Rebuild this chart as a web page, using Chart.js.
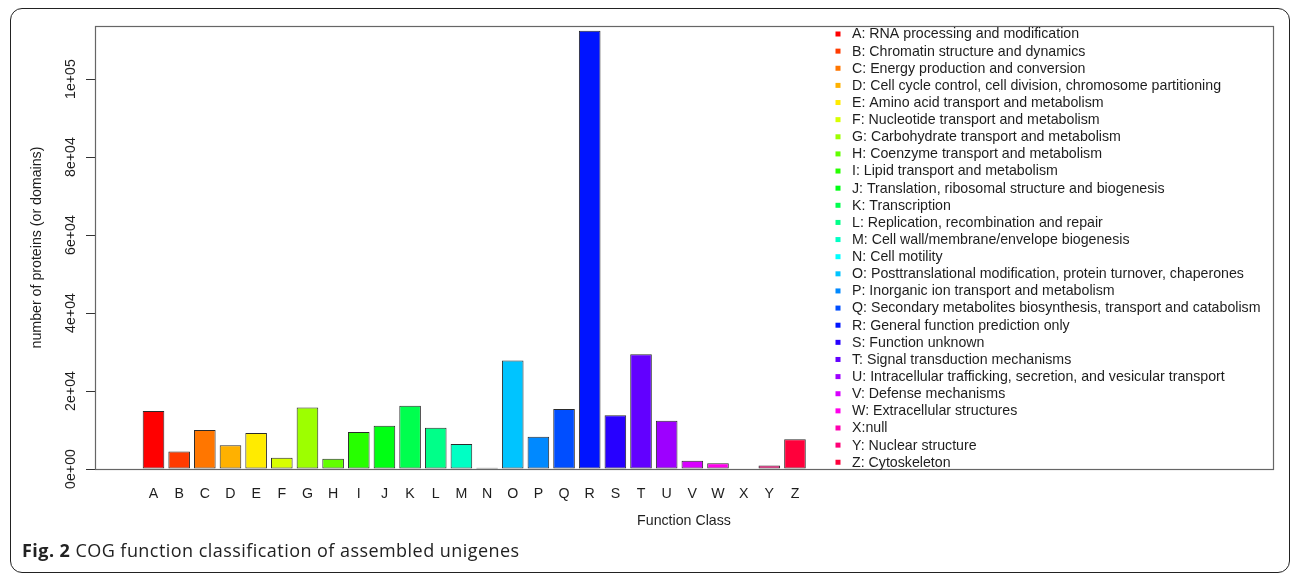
<!DOCTYPE html>
<html><head><meta charset="utf-8">
<script src="https://cdn.jsdelivr.net/npm/chart.js@4.4.1/dist/chart.umd.min.js"></script>
<style>
html,body{margin:0;padding:0;background:#fff;}
#wrap{position:relative;width:1292px;height:574px;overflow:hidden;background:#fff;}
#c{position:absolute;left:0;top:0;}
#frame{position:absolute;left:10px;top:8px;width:1280px;height:565px;box-sizing:border-box;border:1.5px solid #222;border-radius:12px;pointer-events:none;}
#cap{position:absolute;left:22px;top:539px;font-family:"Open Sans",sans-serif;font-size:18px;line-height:22px;letter-spacing:0.45px;color:#222;white-space:nowrap;}
</style></head>
<body><div id="wrap"><canvas id="c" width="1292" height="574"></canvas><div id="frame"></div><div id="cap"><b>Fig. 2</b> COG function classification of assembled unigenes</div></div>
<script>
const categories = ['A','B','C','D','E','F','G','H','I','J','K','L','M','N','O','P','Q','R','S','T','U','V','W','X','Y','Z'];
const counts = [14900,4500,10000,6100,9200,2900,15800,2600,9500,11100,16200,10600,6400,300,27800,8300,15400,112400,13800,29400,12400,2100,1500,0,900,7600];
const legendLabels = [
  'A: RNA processing and modification',
  'B: Chromatin structure and dynamics',
  'C: Energy production and conversion',
  'D: Cell cycle control, cell division, chromosome partitioning',
  'E: Amino acid transport and metabolism',
  'F: Nucleotide transport and metabolism',
  'G: Carbohydrate transport and metabolism',
  'H: Coenzyme transport and metabolism',
  'I: Lipid transport and metabolism',
  'J: Translation, ribosomal structure and biogenesis',
  'K: Transcription',
  'L: Replication, recombination and repair',
  'M: Cell wall/membrane/envelope biogenesis',
  'N: Cell motility',
  'O: Posttranslational modification, protein turnover, chaperones',
  'P: Inorganic ion transport and metabolism',
  'Q: Secondary metabolites biosynthesis, transport and catabolism',
  'R: General function prediction only',
  'S: Function unknown',
  'T: Signal transduction mechanisms',
  'U: Intracellular trafficking, secretion, and vesicular transport',
  'V: Defense mechanisms',
  'W: Extracellular structures',
  'X:null',
  'Y: Nuclear structure',
  'Z: Cytoskeleton'
];
const barColors = ['#FF0000','#FF3B00','#FF7600','#FFB100','#FFEB00','#D8FF00','#9DFF00','#62FF00','#27FF00','#00FF14','#00FF4E','#00FF89','#00FFC4','#00FFFF','#00C4FF','#0089FF','#004EFF','#0014FF','#2700FF','#6200FF','#9D00FF','#D800FF','#FF00EB','#FF00B1','#FF0076','#FF003B'];
const yTicks = [0,20000,40000,60000,80000,100000];
const yTickLabels = ['0e+00','2e+04','4e+04','6e+04','8e+04','1e+05'];

const FONT = 'Liberation Sans';
const FS = 14.2;
const TXT = '#1e1e1e';

const boxAndLegend = {
  id: 'boxAndLegend',
  afterDraw(chart) {
    const ctx = chart.ctx, ca = chart.chartArea;
    ctx.save();
    ctx.strokeStyle = '#666';
    ctx.lineWidth = 1.2;
    ctx.strokeRect(ca.left + 0.5, ca.top + 0.5, ca.right - ca.left, ca.bottom - ca.top);
    ctx.font = FS + 'px "' + FONT + '"';
    ctx.textBaseline = 'middle';
    ctx.textAlign = 'left';
    const y0 = 34, step = 17.13;
    legendLabels.forEach((t, i) => {
      const y = y0 + i * step;
      ctx.fillStyle = barColors[i];
      ctx.fillRect(835.5, y - 2.5, 5, 5);
      ctx.fillStyle = TXT;
      ctx.fillText(t, 852, y + 0.5);
    });
    ctx.restore();
  }
};

new Chart(document.getElementById('c'), {
  type: 'bar',
  data: {
    datasets: [{
      data: categories.map((c, i) => ({x: i, y: counts[i]})),
      backgroundColor: barColors,
      borderColor: '#2b2b2b',
      borderWidth: 1,
      borderSkipped: false,
      barPercentage: 0.842,
      categoryPercentage: 1
    }]
  },
  options: {
    responsive: false,
    devicePixelRatio: 1,
    animation: false,
    layout: {padding: {left: 0, top: 26, right: 19, bottom: 40}},
    plugins: {legend: {display: false}, tooltip: {enabled: false}, title: {display: false}},
    scales: {
      x: {
        type: 'linear', position: 'bottom', offset: false,
        min: -2.28, max: 43.63,
        afterBuildTicks(s) { s.ticks = categories.map((c, i) => ({value: i})); },
        afterFit(s) { s.height = 65; },
        grid: {display: false, drawTicks: false},
        border: {display: false},
        ticks: {
          autoSkip: false, minRotation: 0, maxRotation: 0, padding: 17,
          font: {family: FONT, size: FS}, color: TXT,
          callback: (v) => categories[v] !== undefined ? categories[v] : ''
        },
        title: {display: true, text: 'Function Class', font: {family: FONT, size: FS}, color: TXT, padding: {top: 0, bottom: 4}}
      },
      y: {
        type: 'linear', position: 'left',
        min: 0, max: 113600,
        afterBuildTicks(s) { s.ticks = yTicks.map(v => ({value: v})); },
        afterFit(s) { s.width = 95; },
        grid: {drawOnChartArea: false, drawTicks: true, tickLength: 9, color: '#333', lineWidth: 1},
        border: {display: false},
        ticks: {
          minRotation: 90, maxRotation: 90, crossAlign: 'center', padding: -5,
          font: {family: FONT, size: FS}, color: TXT,
          callback: (v) => { const k = yTicks.indexOf(v); return k >= 0 ? yTickLabels[k] : ''; }
        },
        title: {display: true, text: 'number of proteins (or domains)', font: {family: FONT, size: FS}, color: TXT, padding: {top: 29, bottom: 0}}
      }
    }
  },
  plugins: [boxAndLegend]
});
</script>
</body></html>
